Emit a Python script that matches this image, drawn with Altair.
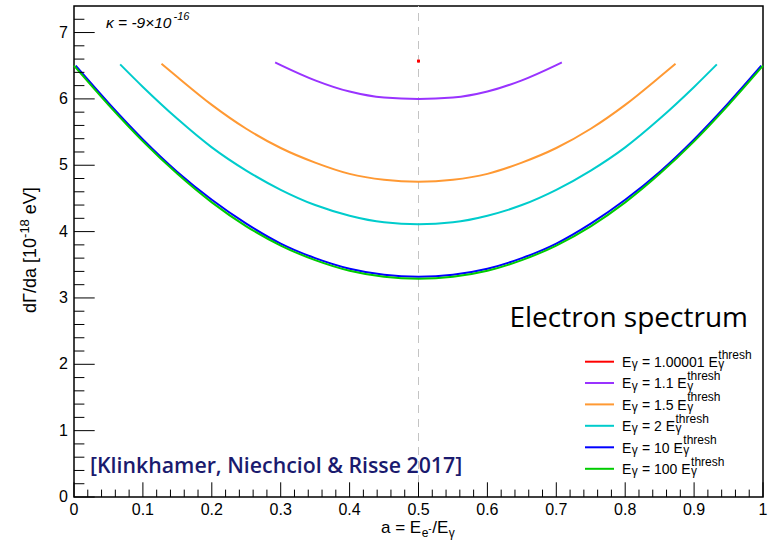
import altair as alt
import pandas as pd

# ------------------------------------------------------------------ data
series_names = ["1.00001", "1.1", "1.5", "2", "10", "100"]
colors = ["#ff0000", "#9933ff", "#ff9933", "#00cccc", "#0000ff", "#00cc00"]

# E = 1.00001 E_thresh : a single point at a = 0.5
a_red = [0.5]
v_red = [6.57]

a_purple = [0.292, 0.30, 0.35, 0.40, 0.45, 0.50, 0.55, 0.60, 0.65, 0.70, 0.708]
v_purple = [6.55, 6.51, 6.28, 6.11, 6.02, 6.00, 6.02, 6.11, 6.28, 6.51, 6.55]

a_orange = [0.127, 0.15, 0.20, 0.25, 0.30, 0.35, 0.40, 0.45, 0.50,
            0.55, 0.60, 0.65, 0.70, 0.75, 0.80, 0.85, 0.873]
v_orange = [6.53, 6.33, 5.91, 5.55, 5.26, 5.04, 4.87, 4.78, 4.75,
            4.78, 4.87, 5.04, 5.26, 5.55, 5.91, 6.33, 6.53]

a_cyan = [0.067, 0.10, 0.15, 0.20, 0.25, 0.30, 0.35, 0.40, 0.45, 0.50,
          0.55, 0.60, 0.65, 0.70, 0.75, 0.80, 0.85, 0.90, 0.933]
v_cyan = [6.52, 6.18, 5.70, 5.27, 4.92, 4.63, 4.40, 4.24, 4.14, 4.11,
          4.14, 4.24, 4.40, 4.63, 4.92, 5.27, 5.70, 6.18, 6.52]

a_blue = [0.0025, 0.05, 0.10, 0.15, 0.20, 0.25, 0.30, 0.35, 0.40, 0.45, 0.50,
          0.55, 0.60, 0.65, 0.70, 0.75, 0.80, 0.85, 0.90, 0.95, 0.9975]
v_blue = [6.50, 5.94, 5.39, 4.90, 4.48, 4.12, 3.82, 3.60, 3.44, 3.35, 3.32,
          3.35, 3.44, 3.60, 3.82, 4.12, 4.48, 4.90, 5.39, 5.94, 6.50]

a_green = [0.0, 0.05, 0.10, 0.15, 0.20, 0.25, 0.30, 0.35, 0.40, 0.45, 0.50,
           0.55, 0.60, 0.65, 0.70, 0.75, 0.80, 0.85, 0.90, 0.95, 1.0]
v_green = [6.50, 5.91, 5.36, 4.87, 4.44, 4.08, 3.79, 3.57, 3.41, 3.32, 3.29,
           3.32, 3.41, 3.57, 3.79, 4.08, 4.44, 4.87, 5.36, 5.91, 6.50]

x_major = [0, 0.1, 0.2, 0.3, 0.4, 0.5, 0.6, 0.7, 0.8, 0.9, 1]
x_labels = ["0", "0.1", "0.2", "0.3", "0.4", "0.5", "0.6", "0.7", "0.8", "0.9", "1"]
x_minor = [round(i * 0.02, 2) for i in range(51) if i % 5 != 0]
y_major = [0, 1, 2, 3, 4, 5, 6, 7]
y_labels = ["0", "1", "2", "3", "4", "5", "6", "7"]
y_minor = [round(i * 0.2, 1) for i in range(37) if i % 5 != 0]

# ------------------------------------------------------------------ layout
W, H = 689, 491
XDOM = [0, 1]
YDOM = [0, 7.4]
ROOTFONT = "Liberation Sans"

xs = alt.Scale(domain=XDOM, nice=False, zero=False)
ys = alt.Scale(domain=YDOM, nice=False, zero=False)
cscale = alt.Scale(domain=series_names, range=colors)


def px2a(px):
    return XDOM[0] + (XDOM[1] - XDOM[0]) * px / W


def py2v(py):
    return YDOM[0] + (YDOM[1] - YDOM[0]) * (H - py) / H


rows = []
for name, aa, vv in [("1.1", a_purple, v_purple), ("1.5", a_orange, v_orange),
                     ("2", a_cyan, v_cyan), ("10", a_blue, v_blue),
                     ("100", a_green, v_green)]:
    for x, y in zip(aa, vv):
        rows.append({"s": name, "a": x, "v": y})
df = pd.DataFrame(rows)

curves = alt.Chart(df).mark_line(strokeWidth=2, interpolate="monotone").encode(
    x=alt.X("a:Q", scale=xs, axis=None),
    y=alt.Y("v:Q", scale=ys, axis=None),
    color=alt.Color("s:N", scale=cscale, legend=None),
)

red = alt.Chart(pd.DataFrame({"a": a_red, "v": v_red})).mark_square(
    size=9, color="#ff0000", opacity=1).encode(
    x=alt.X("a:Q", scale=xs, axis=None),
    y=alt.Y("v:Q", scale=ys, axis=None))

dash = alt.Chart(pd.DataFrame({"a": [0.5], "v": [YDOM[0]], "v2": [YDOM[1]]})).mark_rule(
    color="#c4c4c4", strokeWidth=1, strokeDash=[8, 6]).encode(
    x=alt.X("a:Q", scale=xs, axis=None),
    y=alt.Y("v:Q", scale=ys, axis=None), y2="v2:Q")


def xticks(vals, length):
    d = pd.DataFrame({"a": vals, "v": [YDOM[0]] * len(vals),
                      "v2": [py2v(H - length)] * len(vals)})
    return alt.Chart(d).mark_rule(color="black", strokeWidth=1).encode(
        x=alt.X("a:Q", scale=xs, axis=None),
        y=alt.Y("v:Q", scale=ys, axis=None), y2="v2:Q")


def yticks(vals, length):
    d = pd.DataFrame({"v": vals, "a": [XDOM[0]] * len(vals),
                      "a2": [px2a(length)] * len(vals)})
    return alt.Chart(d).mark_rule(color="black", strokeWidth=1).encode(
        y=alt.Y("v:Q", scale=ys, axis=None),
        x=alt.X("a:Q", scale=xs, axis=None), x2="a2:Q")


# tick labels (through the scales)
xlab = alt.Chart(pd.DataFrame({"a": x_major, "v": [py2v(H + 5)] * len(x_major),
                               "txt": x_labels})).mark_text(
    align="center", baseline="top", font=ROOTFONT, fontSize=16, color="black").encode(
    x=alt.X("a:Q", scale=xs, axis=None), y=alt.Y("v:Q", scale=ys, axis=None), text="txt:N")
ylab = alt.Chart(pd.DataFrame({"v": y_major, "a": [px2a(-6)] * len(y_major),
                               "txt": y_labels})).mark_text(
    align="right", baseline="middle", font=ROOTFONT, fontSize=16, color="black").encode(
    x=alt.X("a:Q", scale=xs, axis=None), y=alt.Y("v:Q", scale=ys, axis=None), text="txt:N")

# ---- text width helper (Arial / Liberation Sans metrics)
AR = {" ": 278, "=": 584, ".": 278, "-": 333, "/": 278, "[": 278, "]": 278,
      "E": 667, "V": 667, "a": 556, "d": 556, "e": 556, "h": 556, "r": 333,
      "s": 500, "t": 278, "γ": 500, "Γ": 556, "κ": 500, "×": 584}


def tw(s, fs):
    return sum(AR.get(c, 556) for c in s) / 1000.0 * fs


def text_layer(items, **props):
    d = pd.DataFrame([{"a": px2a(px), "v": py2v(py), "txt": t} for px, py, t in items])
    base = dict(align="left", baseline="alphabetic", color="black")
    base.update(props)
    return alt.Chart(d).mark_text(**base).encode(
        x=alt.X("a:Q", scale=xs, axis=None),
        y=alt.Y("v:Q", scale=ys, axis=None),
        text="txt:N")


# ---- legend
FS_L, FS_S = 14, 12
x0 = 548
row_c = [355.7, 377.0, 398.4, 419.8, 441.3, 462.8]
leg_lines = pd.DataFrame({"s": series_names, "v": [py2v(p) for p in row_c],
                          "a": [px2a(511)] * 6, "a2": [px2a(540)] * 6})
legend_lines = alt.Chart(leg_lines).mark_rule(strokeWidth=2).encode(
    x=alt.X("a:Q", scale=xs, axis=None), x2="a2:Q",
    y=alt.Y("v:Q", scale=ys, axis=None),
    color=alt.Color("s:N", scale=cscale, legend=None))

main_txt, small_txt = [], []
for num, yc in zip(series_names, row_c):
    main_txt.append((x0, yc + 5.2, "E"))
    small_txt.append((x0 + tw("E", FS_L) + 0.5, yc + 6.5, "γ"))
    xr = x0 + tw("E", FS_L) + 6.7 + tw(" ", FS_L)
    rest = "= " + num + " E"
    main_txt.append((xr, yc + 5.2, rest))
    xs2 = xr + tw(rest, FS_L) + 0.5
    small_txt.append((xs2, yc - 3.0, "thresh"))
    small_txt.append((xs2, yc + 6.5, "γ"))

legend_main = text_layer(main_txt, font=ROOTFONT, fontSize=FS_L)
legend_small = text_layer(small_txt, font=ROOTFONT, fontSize=FS_S)

# ---- kappa annotation
FS_K = 15.5
kappa_main = text_layer([(32, 22.3, "κ = -9×10")], font=ROOTFONT, fontSize=FS_K,
                        fontStyle="italic")
kappa_sup = text_layer([(32 + tw("κ = -9×10", FS_K) + 2, 14, "-16")], font=ROOTFONT,
                       fontSize=11, fontStyle="italic")

# ---- y title (rotated, pieces)
FS_T = 18
ya = 307
yb = ya - tw("dΓ/da [10", FS_T)
yc_ = yb - tw("-18", 13) - tw(" ", FS_T)
ytitle_main = text_layer([(-38, ya, "dΓ/da [10"), (-38, yc_, "eV]")],
                         font=ROOTFONT, fontSize=FS_T, angle=270)
ytitle_sup = text_layer([(-45, yb, "-18")], font=ROOTFONT, fontSize=13, angle=270)

# ---- x title (pieces)
FS_X, FS_XS = 17, 12
xa = 307
xbase = 527
xb = xa + tw("a = E", FS_X) + 0.5
xc = xb + tw("e", FS_XS) + tw("-", FS_XS - 2) + 0.5
xd = xc + tw("/E", FS_X) + 0.5
xtitle_main = text_layer([(xa, xbase, "a = E"), (xc, xbase, "/E")],
                         font=ROOTFONT, fontSize=FS_X)
xtitle_sub = text_layer([(xb, xbase + 4, "e"), (xd, xbase + 4, "γ")],
                        font=ROOTFONT, fontSize=FS_XS)
xtitle_sup = text_layer([(xb + tw("e", FS_XS), xbase - 1, "-")],
                        font=ROOTFONT, fontSize=FS_XS - 2)

# ---- annotations
spectrum = text_layer([(674, 321, "Electron spectrum")], align="right",
                      font="Open Sans", fontSize=28)
cite = text_layer([(16, 467, "[Klinkhamer, Niechciol & Risse 2017]")],
                  font="Open Sans", fontSize=21.3, fontWeight=600, color="#1a1a6e")

chart = alt.layer(
    dash, curves, red,
    xticks(x_major, 14.7), xticks(x_minor, 7.4),
    yticks(y_major, 20.7), yticks(y_minor, 10.4),
    xlab, ylab,
    legend_lines, legend_main, legend_small,
    kappa_main, kappa_sup,
    ytitle_main, ytitle_sup, xtitle_main, xtitle_sub, xtitle_sup,
    spectrum, cite,
).properties(
    width=W, height=H,
    padding={"left": 74, "top": 6, "right": 6, "bottom": 44},
    autosize=alt.AutoSizeParams(type="none"),
    background="white",
).configure_view(
    stroke="black", strokeWidth=1.5
)

chart.save("out.html", embed_options={"renderer": "svg", "actions": False})
